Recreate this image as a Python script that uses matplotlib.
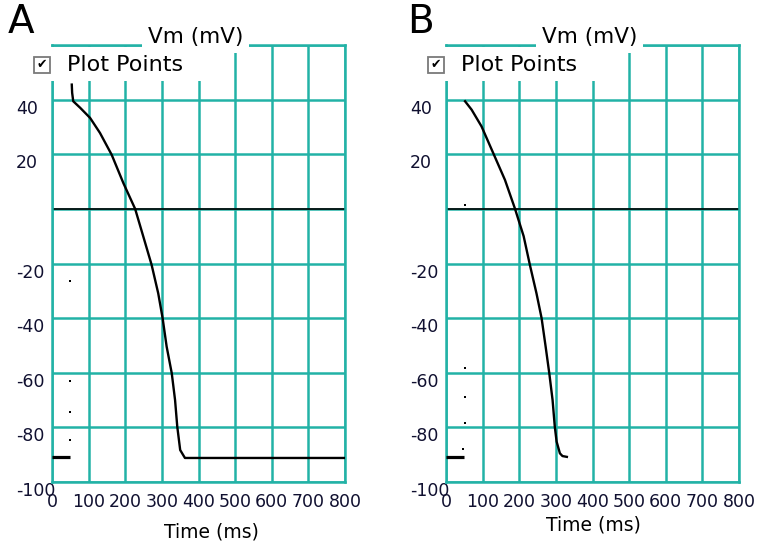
import matplotlib
matplotlib.use('Agg')
import matplotlib.pyplot as plt
from matplotlib.patches import Rectangle

# values (time in ms, Vm in mV)
rest_a_t = [0, 49]
rest_a_v = [-91, -91]
dots_a_t = [49, 49, 49, 49]
dots_a_v = [-84.6, -74.4, -63, -26.4]
curve_a_t = [54, 55, 58, 77, 104, 131, 163, 195, 227, 249, 272, 290, 302,
             313, 327, 336, 342, 350, 363, 800]
curve_a_v = [45.5, 42.5, 39.4, 37.0, 33.3, 27.8, 19.8, 9.4, 0, -10, -20.5,
             -30.9, -40, -50.4, -60.2, -70, -79.7, -88.3, -91.2, -91.2]

rest_b_t = [0, 50]
rest_b_v = [-91, -91]
dots_b_t = [46, 52, 52, 52, 52]
dots_b_v = [-88, -78.4, -68.8, -58.2, 1.5]
curve_b_t = [52, 70, 97, 129, 161, 188, 212, 229, 247, 261, 272, 282, 291,
             297, 302, 311, 318, 330]
curve_b_v = [39.4, 36.3, 30.2, 20.4, 10.6, 0.2, -10, -20.5, -30.9, -40,
             -50.4, -60.2, -70, -79.7, -85.2, -89.5, -90.5, -90.8]

x_ticks = list(range(0, 801, 100))
y_ticks = list(range(-100, 61, 20))
y_labels = ['-100', '-80', '-60', '-40', '-20', '', '20', '40', '']

TEAL = '#22b2a6'
TXT = '#101030'

fig = plt.figure(figsize=(7.6, 5.45), dpi=100)
W, H = 760, 545


def panel(left_px, letter, letter_x, xlabel_pos, rest, dots, curve):
    ax = fig.add_axes([left_px / W, 1 - 482 / H, 293 / W, 437 / H])
    ax.set_xlim(0, 800)
    ax.set_ylim(-100, 60)
    ax.set_xticks(x_ticks)
    ax.set_xticklabels([str(t) for t in x_ticks])
    ax.set_yticks(y_ticks)
    ax.set_yticklabels(y_labels)
    ax.tick_params(length=0, labelsize=12.5, colors=TXT)
    ax.tick_params(axis='x', pad=8)
    ax.tick_params(axis='y', pad=26)
    for lbl in ax.get_yticklabels():
        lbl.set_ha('left')
        lbl.set_va('top')
    ax.grid(True, color=TEAL, lw=1.8, zorder=1)
    ax.set_axisbelow(True)
    for s in ax.spines.values():
        s.set_color(TEAL)
        s.set_linewidth(1.8)
    ax.axhline(0, color='black', lw=1.2, zorder=2)

    ax.plot(rest[0], rest[1], color='black', lw=2.3, zorder=5,
            solid_capstyle='butt')
    ax.plot(curve[0], curve[1], color='black', lw=1.7, zorder=5)
    ax.plot(dots[0], dots[1], 's', color='black', ms=2.0, mew=0, zorder=5)

    # white panel behind the checkbox
    ax.add_patch(Rectangle((-0.08, 0.918), 0.68, 0.077, transform=ax.transAxes,
                           fc='white', ec='none', clip_on=False, zorder=3))
    ax.add_patch(Rectangle((-0.063, 0.937), 0.055, 0.036, transform=ax.transAxes,
                           fc='white', ec='#7a7a7a', lw=1.3, clip_on=False,
                           zorder=4))
    ax.text(-0.0355, 0.955, '\u2714', transform=ax.transAxes, ha='center',
            va='center', fontsize=9, color='black', zorder=5, clip_on=False)
    ax.text(0.051, 0.955, 'Plot Points', transform=ax.transAxes, ha='left',
            va='center', fontsize=16, color='black', zorder=5, clip_on=False)

    ax.text(0.49, 1.018, 'Vm (mV)', transform=ax.transAxes, ha='center',
            va='center', fontsize=15.5, color='black', zorder=5, clip_on=False,
            bbox=dict(fc='white', ec='none', pad=4))
    ax.text(xlabel_pos[0], xlabel_pos[1], 'Time (ms)', transform=ax.transAxes,
            ha='center', va='center', fontsize=13.5, color='black')
    fig.text(letter_x / W, 1 - 22 / H, letter, ha='center', va='center',
             fontsize=28, color='black')
    return ax


panel(52, 'A', 21, (0.543, -0.114), (rest_a_t, rest_a_v),
      (dots_a_t, dots_a_v), (curve_a_t, curve_a_v))
panel(446, 'B', 420, (0.502, -0.098), (rest_b_t, rest_b_v),
      (dots_b_t, dots_b_v), (curve_b_t, curve_b_v))

fig.savefig('out.png', dpi=100)
